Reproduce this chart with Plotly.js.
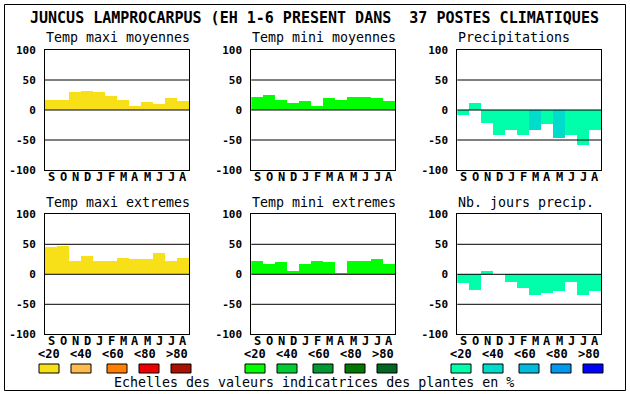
<!DOCTYPE html>
<html>
<head>
<meta charset="utf-8">
<script src="https://cdn.plot.ly/plotly-3.0.1.min.js"></script>
<style>
html,body{margin:0;padding:0;background:#fff;}
#chart{width:630px;height:394px;}
</style>
</head>
<body>
<div id="chart"></div>
<script>
// ---- data ----
const months = ['S','O','N','D','J','F','M','A','M','J','J','A'];
const panelTitles = ['Temp maxi moyennes','Temp mini moyennes','Precipitations',
                     'Temp maxi extremes','Temp mini extremes','Nb. jours precip.'];
const tempMaxiMoy   = [17, 17, 30, 32, 30, 23, 17, 7, 13, 10, 20, 15];
const tempMiniMoy   = [22, 25, 17, 12, 15, 7, 20, 17, 22, 22, 20, 15];
const precipitations = [-8, 12, -21, -41, -33, -41, -34, -24, -46, -41, -58, -33];
const tempMaxiExt   = [45, 47, 23, 30, 22, 23, 27, 25, 25, 35, 23, 27];
const tempMiniExt   = [23, 17, 20, 5, 17, 23, 20, 2, 23, 23, 25, 17];
const nbJoursPrecip = [-15, -26, 5, 0, -13, -23, -34, -31, -28, -13, -34, -28];
// indicator class (0:<20 1:<40 2:<60 3:<80 4:>80) for each bar
const classMaxiMoy = [0,0,0,0,0,0,0,0,0,0,0,0];
const classMiniMoy = [0,0,0,0,0,0,0,0,0,0,0,0];
const classPrecip  = [0,0,0,0,0,0,1,0,1,0,0,0];
const classMaxiExt = [0,0,0,0,0,0,0,0,0,0,0,0];
const classMiniExt = [0,0,0,0,0,0,0,0,0,0,0,0];
const classJours   = [0,0,0,0,0,0,0,0,0,0,0,0];
const scaleLabels = ['<20','<40','<60','<80','>80'];
const yTicks = [100, 50, 0, -50, -100];
const gridValues = [50, 0, -50];
const mainTitle = 'JUNCUS LAMPROCARPUS (EH 1-6 PRESENT DANS  37 POSTES CLIMATIQUES';
const footer = 'Echelles des valeurs indicatrices des plantes en %';

// ---- styles ----
const yellowScale = ['#F8E018','#FFBB50','#FF7F00','#EE0000','#AA1100'];
const greenScale  = ['#00FF00','#00CC33','#009933','#007700','#006622'];
const blueScale   = ['#00FFAA','#00DCCC','#00BBDD','#0099EE','#0000FF'];

const W = 630, H = 394;
const px = x => x / W;
const py = y => 1 - y / H;

const colLeft = [45, 251.3, 457.3];
const plotW = 144;
const rowTop = [50, 214.3];
const plotH = 120;

const panels = [
  {vals: tempMaxiMoy, cls: classMaxiMoy, scale: yellowScale},
  {vals: tempMiniMoy, cls: classMiniMoy, scale: greenScale},
  {vals: precipitations, cls: classPrecip, scale: blueScale},
  {vals: tempMaxiExt, cls: classMaxiExt, scale: yellowScale},
  {vals: tempMiniExt, cls: classMiniExt, scale: greenScale},
  {vals: nbJoursPrecip, cls: classJours, scale: blueScale}
];

const mono = 'DejaVu Sans Mono, Liberation Mono, monospace';
const tickFont = {family: mono, size: 11, color: '#000', weight: 'bold'};
const monthFont = {family: mono, size: 12, color: '#000', weight: 'bold'};
const scaleFont = {family: mono, size: 12, color: '#000', weight: 'bold'};

const data = [];
const layout = {
  width: W, height: H,
  margin: {l: 0, r: 0, t: 0, b: 0},
  paper_bgcolor: '#fff', plot_bgcolor: '#fff',
  showlegend: false,
  bargap: 0,
  annotations: [],
  shapes: []
};

const idx = months.map((m, i) => i);

panels.forEach((p, k) => {
  const col = k % 3, row = Math.floor(k / 3);
  const n = k + 1;
  const sfx = (n === 1 ? '' : String(n));
  const xa = 'x' + sfx, ya = 'y' + sfx;
  data.push({
    type: 'bar', x: idx, y: p.vals, xaxis: xa, yaxis: ya,
    width: 1,
    marker: {color: p.cls.map(c => p.scale[c]), line: {width: 0}},
    hoverinfo: 'skip'
  });
  const xl = colLeft[col], yt = rowTop[row];
  layout['xaxis' + sfx] = {
    domain: [px(xl), px(xl + plotW)],
    anchor: ya,
    range: [-0.5, 11.5], fixedrange: true,
    showticklabels: false,
    ticks: '', showgrid: false, zeroline: false,
    showline: true, mirror: true, linecolor: '#000', linewidth: 1
  };
  layout['yaxis' + sfx] = {
    domain: [py(yt + plotH), py(yt)],
    anchor: xa,
    range: [-100, 100], fixedrange: true,
    tickvals: yTicks, ticktext: yTicks.map(String), tickfont: tickFont,
    ticks: '', showgrid: false, zeroline: false,
    showline: true, mirror: true, linecolor: '#000', linewidth: 1,
    ticklabelstandoff: 6
  };
  gridValues.forEach(g => {
    layout.shapes.push({type: 'line', xref: xa + ' domain', yref: ya,
      x0: 0, x1: 1, y0: g, y1: g, line: {color: '#000', width: 1}, layer: 'above'});
  });
  // month labels placed on the x axis scale
  months.forEach((m, i) => {
    layout.annotations.push({
      xref: xa, yref: 'paper', x: i, y: py(yt + plotH + 7),
      xanchor: 'center', yanchor: 'middle', showarrow: false,
      text: m, font: monthFont
    });
  });
  layout.annotations.push({
    xref: 'paper', yref: 'paper', x: px(xl - 1), y: py(yt - 12),
    xanchor: 'left', yanchor: 'middle', showarrow: false,
    text: panelTitles[k], font: {family: mono, size: 13.3, color: '#000'}
  });
});

// title
layout.annotations.push({
  xref: 'paper', yref: 'paper', x: px(314.5), y: py(18),
  xanchor: 'center', yanchor: 'middle', showarrow: false,
  text: mainTitle, font: {family: mono, size: 15, color: '#000', weight: 600}
});
// footer
layout.annotations.push({
  xref: 'paper', yref: 'paper', x: px(314), y: py(382),
  xanchor: 'center', yanchor: 'middle', showarrow: false,
  text: footer, font: {family: mono, size: 13.3, color: '#000'}
});

// colour scale legends
const groupX = [39, 245, 451];
const sqOffsets = [0, 32, 68, 100, 132];
const lblOffsets = [10, 42, 74, 106, 138];
const scales = [yellowScale, greenScale, blueScale];
scales.forEach((sc, g) => {
  sc.forEach((c, i) => {
    const x0 = groupX[g] + sqOffsets[i];
    layout.shapes.push({type: 'rect', xref: 'paper', yref: 'paper',
      x0: px(x0), x1: px(x0 + 20), y0: py(373), y1: py(364),
      fillcolor: c, line: {color: '#000', width: 1}});
    layout.annotations.push({xref: 'paper', yref: 'paper',
      x: px(groupX[g] + lblOffsets[i]), y: py(354), xanchor: 'center', yanchor: 'middle',
      showarrow: false, text: scaleLabels[i], font: scaleFont});
  });
});

// outer border
layout.shapes.push({type: 'rect', xref: 'paper', yref: 'paper',
  x0: px(4.5), x1: px(625.5), y0: py(390.5), y1: py(4.5),
  line: {color: '#000', width: 1}, fillcolor: 'rgba(0,0,0,0)'});

Plotly.newPlot('chart', data, layout, {staticPlot: true, displayModeBar: false});
</script>
</body>
</html>
